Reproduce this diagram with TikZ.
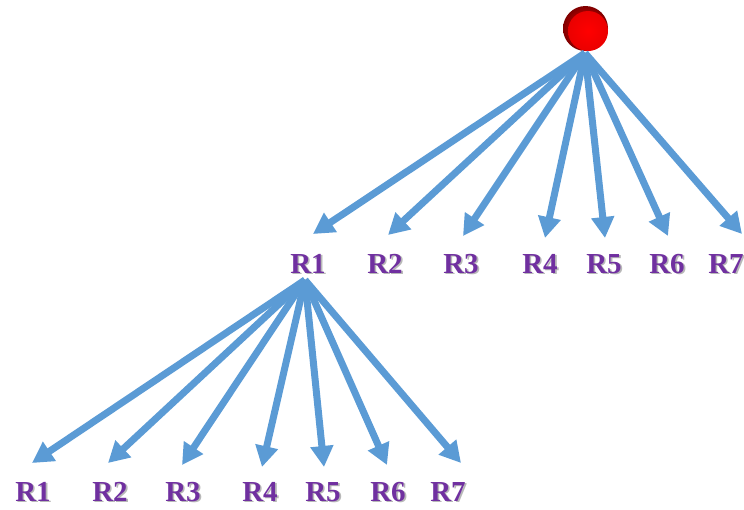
\documentclass[tikz,border=0pt]{standalone}
\usepackage{fontspec}
\setmainfont{Liberation Serif}
\usetikzlibrary{arrows.meta}
\definecolor{arrowblue}{HTML}{5B9BD5}
\definecolor{labpurple}{HTML}{7030A0}
\newcommand\shtxt[1]{\makebox[0pt][l]{\kern1.6pt\raisebox{-1.6pt}{\color{black!28}#1}}#1}
\begin{document}
\begin{tikzpicture}[x=1pt,y=-1pt,
  conn/.style={draw=arrowblue, line width=7pt, -{Triangle[length=21pt,width=22pt]}},
  lab/.style={text=labpurple, font=\fontsize{29}{29}\selectfont\bfseries, inner sep=0pt, anchor=base}]
\useasboundingbox (0,0) rectangle (744,509);
% root ball
\shade[inner color=red, outer color=red!50!black, shading=radial] (585.5,28.5) circle (22.5);
\shade[inner color=red, outer color=red!92!black, shading=radial] (588,31) circle (20);
\node[circle, minimum size=45pt, inner sep=0pt] (root) at (585.5,28.5) {};
\coordinate (o1) at (585,53);
% top labels
\node[lab] (t1) at (308,273) {\shtxt{R1}};
\node[lab] (t2) at (385,273) {\shtxt{R2}};
\node[lab] (t3) at (461,273) {\shtxt{R3}};
\node[lab] (t4) at (540,273) {\shtxt{R4}};
\node[lab] (t5) at (604,273) {\shtxt{R5}};
\node[lab] (t6) at (667,273) {\shtxt{R6}};
\node[lab] (t7) at (726,273) {\shtxt{R7}};
\coordinate (a1) at (313,234);
\coordinate (a2) at (388,235);
\coordinate (a3) at (463,236);
\coordinate (a4) at (545,238);
\coordinate (a5) at (605,238);
\coordinate (a6) at (668,236);
\coordinate (a7) at (742,234);
\foreach \i in {1,...,7} {\draw[conn] (o1) -- (a\i);}
% bottom labels
\coordinate (o2) at (305,280);
\node[lab] (b1) at (33,501) {\shtxt{R1}};
\node[lab] (b2) at (110,501) {\shtxt{R2}};
\node[lab] (b3) at (183,501) {\shtxt{R3}};
\node[lab] (b4) at (260,501) {\shtxt{R4}};
\node[lab] (b5) at (323,501) {\shtxt{R5}};
\node[lab] (b6) at (388,501) {\shtxt{R6}};
\node[lab] (b7) at (448,501) {\shtxt{R7}};
\coordinate (c1) at (32,463);
\coordinate (c2) at (108,463);
\coordinate (c3) at (182,465);
\coordinate (c4) at (262,467);
\coordinate (c5) at (324,467);
\coordinate (c6) at (387,465);
\coordinate (c7) at (461,463);
\foreach \i in {1,...,7} {\draw[conn] (o2) -- (c\i);}
\end{tikzpicture}
\end{document}
